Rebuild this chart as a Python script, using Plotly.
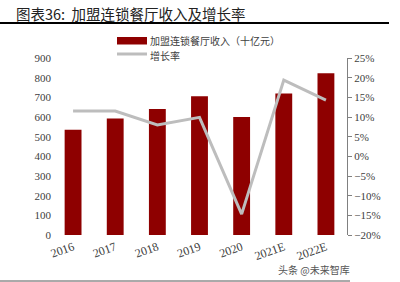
import plotly.graph_objects as go

years = ["2016", "2017", "2018", "2019", "2020", "2021E", "2022E"]
revenue = [535, 592, 641, 705, 600, 719, 822]
growth = [11.5, 11.5, 8.0, 9.9, -14.7, 19.4, 14.3]
bar_name = "加盟连锁餐厅收入（十亿元）"
line_name = "增长率"

W, H = 400, 282
L, R, T, B = 52, 53, 58, 47
PW, PH = W - L - R, H - T - B


def px(x):
    return (x - L) / PW


def py(y):
    return (H - B - y) / PH


bar_color = "#8E0000"
line_color = "#BDBDBD"

fig = go.Figure()
fig.add_trace(go.Bar(x=years, y=revenue, name=bar_name, showlegend=False,
                     marker=dict(color=bar_color, line=dict(width=0)), width=0.4))
fig.add_trace(go.Scatter(x=years, y=growth, name=line_name, yaxis="y2", mode="lines",
                         showlegend=False, line=dict(color=line_color, width=3)))

serif = "Liberation Serif, Times New Roman, serif"
fig.update_layout(
    width=W, height=H,
    margin=dict(l=L, r=R, t=T, b=B),
    paper_bgcolor="white", plot_bgcolor="white",
    xaxis=dict(tickangle=-20, tickfont=dict(family=serif, size=12, color="#404040"),
               showline=False, ticks="", ticklabelstandoff=2),
    yaxis=dict(range=[0, 900], dtick=100, showgrid=False, showline=False,
               tickfont=dict(family=serif, size=11, color="#404040"), ticks=""),
    yaxis2=dict(range=[-20, 25], dtick=5, overlaying="y", side="right", showgrid=False,
                ticksuffix="%", showline=True, linecolor="#808080", linewidth=1,
                ticks="outside", ticklen=4, tickcolor="#808080", zeroline=False,
                tickfont=dict(family=serif, size=11, color="#404040")),
)

# title and rules
fig.add_annotation(xref="paper", yref="paper", x=px(14), y=py(13),
                   xanchor="left", yanchor="middle", showarrow=False,
                   text="图表36:  加盟连锁餐厅收入及增长率",
                   font=dict(family="Noto Sans CJK SC", size=14.5, color="#222"))
fig.add_shape(type="line", xref="paper", yref="paper",
              x0=px(0), x1=px(389), y0=py(23), y1=py(23),
              line=dict(color="black", width=2))
fig.add_shape(type="line", xref="paper", yref="paper",
              x0=px(0), x1=px(350), y0=py(281), y1=py(281),
              line=dict(color="#555", width=1))
fig.add_annotation(xref="paper", yref="paper", x=px(352), y=py(269),
                   xanchor="right", yanchor="middle", showarrow=False,
                   text="头条 @未来智库",
                   font=dict(family="Noto Sans CJK SC", size=10, color="#555"))

# legend
fig.add_shape(type="rect", xref="paper", yref="paper",
              x0=px(117), x1=px(147), y0=py(37), y1=py(44.5),
              fillcolor=bar_color, line=dict(width=0))
fig.add_shape(type="line", xref="paper", yref="paper",
              x0=px(117), x1=px(147), y0=py(54), y1=py(54),
              line=dict(color=line_color, width=3))
for name, yy in [(bar_name, 40.5), (line_name, 55.5)]:
    fig.add_annotation(xref="paper", yref="paper", x=px(149), y=py(yy),
                       xanchor="left", yanchor="middle", showarrow=False,
                       text=name, borderpad=0,
                       font=dict(family="Noto Sans CJK SC", size=10, color="#404040"))

fig.write_html("out.html")
